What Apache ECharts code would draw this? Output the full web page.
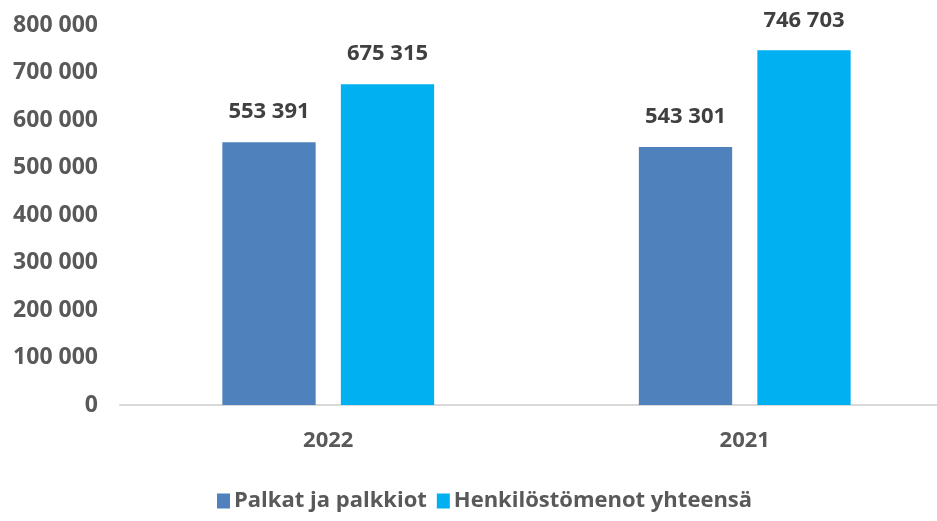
<!DOCTYPE html>
<html>
<head>
<meta charset="utf-8">
<script src="https://cdn.jsdelivr.net/npm/echarts@6/dist/echarts.min.js"></script>
<style>
  html, body { margin: 0; padding: 0; background: #fff; }
  #chart { width: 937px; height: 521px; }
</style>
</head>
<body>
<div id="chart"></div>
<script>
const years = ["2022", "2021"];
const palkat = [553391, 543301];
const henkilosto = [675315, 746703];
const seriesNames = ["Palkat ja palkkiot", "Henkilöstömenot yhteensä"];

// tuhaterotin välilyönnillä
function fmt(v) {
  return String(v).replace(/\B(?=(\d{3})+(?!\d))/g, " ");
}

const font = "'Open Sans', sans-serif";
const chart = echarts.init(document.getElementById("chart"));
chart.setOption({
  animation: false,
  grid: { left: 120, width: 833, top: 25, bottom: 116, outerBoundsMode: "none" },
  legend: {
    bottom: 4,
    left: 212,
    itemWidth: 13,
    itemHeight: 15,
    itemGap: 10,
    icon: "rect",
    textStyle: { color: "#595959", fontFamily: font, fontWeight: "bold", fontSize: 22, padding: [0, 0, 0, -1] },
  },
  xAxis: {
    type: "category",
    data: years,
    axisTick: { show: false },
    axisLine: { lineStyle: { color: "#d9d9d9", width: 2 } },
    axisLabel: { color: "#595959", fontFamily: font, fontWeight: "bold", fontSize: 22, margin: 25 },
  },
  yAxis: {
    type: "value",
    min: 0,
    max: 800000,
    interval: 100000,
    splitLine: { show: false },
    axisLabel: {
      color: "#595959", fontFamily: font, fontWeight: "bold", fontSize: 23, margin: 22,
      formatter: fmt,
    },
  },
  series: [
    {
      name: seriesNames[0],
      type: "bar",
      data: palkat,
      barWidth: "22.4%",
      barGap: "27%",
      itemStyle: { color: "#4f81bd" },
      label: {
        show: true, position: "top", distance: 19,
        color: "#404040", fontFamily: font, fontWeight: "bold", fontSize: 22,
        formatter: (p) => fmt(p.value),
      },
    },
    {
      name: seriesNames[1],
      type: "bar",
      data: henkilosto,
      barWidth: "22.4%",
      barGap: "27%",
      itemStyle: { color: "#00b0f0" },
      label: {
        show: true, position: "top", distance: 19,
        color: "#404040", fontFamily: font, fontWeight: "bold", fontSize: 22,
        formatter: (p) => fmt(p.value),
      },
    },
  ],
});
</script>
</body>
</html>
